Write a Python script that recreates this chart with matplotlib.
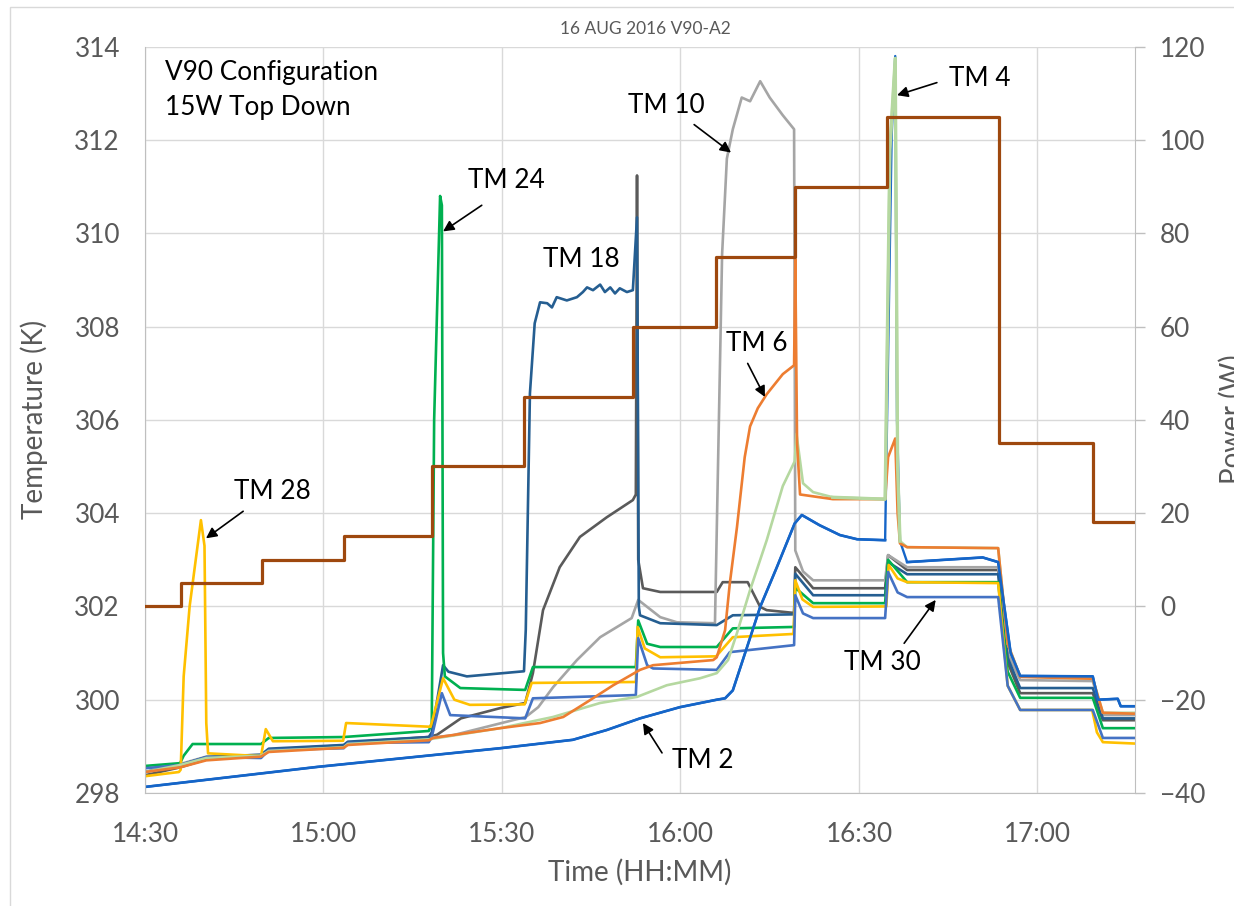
import matplotlib
matplotlib.use("Agg")
import matplotlib.pyplot as plt
from matplotlib.patches import Rectangle

plt.rcParams['font.family'] = ['Lato', 'DejaVu Sans']

# ---------------- data (time in minutes after 14:30) ----------------
x_ticks = [0, 30, 60, 90, 120, 150]
x_labels = ["14:30", "15:00", "15:30", "16:00", "16:30", "17:00"]
y_ticks = [298, 300, 302, 304, 306, 308, 310, 312, 314]
p_ticks = [-40, -20, 0, 20, 40, 60, 80, 100, 120]

power_t = [0, 6.0, 19.7, 33.4, 48.2, 63.7, 82.0, 96.0, 109.2, 124.7, 143.5, 159.3, 166.4]
power_W = [0, 5, 10, 15, 30, 45, 60, 75, 90, 105, 35, 18, 18]

tm2_t = [0, 29, 59.7, 71.9, 77.6, 83.2, 89.9, 96.1, 97.5, 98.8, 101.2, 103.4, 106.2, 109.2, 110.4, 113.4,
         116.8, 119.7, 124.4, 125.5, 126.1, 126.4, 126.9, 128.1, 140.8, 143.4, 145.5, 147.1, 159.3, 160.2,
         163.5, 164.0, 166.4]
tm2_T = [298.13, 298.56, 298.96, 299.14, 299.35, 299.6, 299.84, 300.0, 300.03, 300.2, 301.13, 301.99, 302.84,
         303.78, 303.96, 303.74, 303.53, 303.44, 303.42, 312.1, 313.8, 306.0, 303.4, 302.95, 303.05, 302.95,
         301.0, 300.51, 300.5, 300.0, 300.02, 299.86, 299.86]

tm4_t = [0, 5.9, 10.3, 19.5, 20.8, 33.4, 34.1, 47.7, 59.7, 68.6, 76.5, 82.7, 87.7, 93.3, 96.1, 98.0, 99.5,
         101.7, 104.5, 107.2, 109.2, 109.5, 110.6, 112.3, 115.6, 124.4, 125.2, 126.1, 126.5, 126.9, 128.1,
         143.4, 145.0, 147.1, 159.3, 161.0, 166.4]
tm4_T = [298.45, 298.6, 298.75, 298.8, 298.9, 298.98, 299.05, 299.15, 299.39, 299.63, 299.93, 300.06, 300.31,
         300.46, 300.57, 300.85, 301.43, 302.35, 303.42, 304.58, 305.11, 305.7, 304.64, 304.45, 304.34, 304.3,
         311.8, 313.75, 305.0, 303.4, 303.27, 303.25, 301.2, 300.5, 300.45, 299.72, 299.72]

tm6_t = [0, 5.9, 10.3, 19.5, 20.8, 33.4, 34.1, 47.7, 48.4, 59.7, 66.4, 70.3, 74.3, 78.7, 83.2, 85.4, 95.5,
         96.1, 97.5, 98.3, 99.5, 100.0, 100.8, 101.7, 103.0, 104.5, 107.2, 109.1, 109.3, 109.6, 110.1, 115.6,
         124.4, 124.9, 126.1, 126.5, 126.9, 128.1, 143.4, 145.0, 147.1, 159.3, 161.0, 166.4]
tm6_T = [298.45, 298.55, 298.7, 298.78, 298.88, 298.97, 299.03, 299.13, 299.18, 299.39, 299.5, 299.63, 299.95,
         300.31, 300.64, 300.74, 300.85, 300.91, 301.49, 302.5, 303.7, 304.28, 305.2, 305.86, 306.25, 306.55,
         306.98, 307.17, 309.45, 305.5, 304.4, 304.3, 304.3, 305.2, 305.6, 304.0, 303.35, 303.27, 303.25,
         301.2, 300.49, 300.45, 299.72, 299.7]

tm10_t = [0, 5.9, 10.3, 19.5, 20.8, 33.4, 34.1, 47.7, 51.8, 64.0, 66.1, 68.6, 72.6, 76.5, 81.8, 82.9, 86.6,
          89.4, 95.8, 97.0, 97.8, 98.8, 100.3, 101.7, 103.4, 105.0, 107.2, 109.1, 109.3, 110.6, 112.3, 124.4,
          124.9, 128.1, 143.4, 145.0, 147.1, 159.3, 161.0, 166.4]
tm10_T = [298.45, 298.62, 298.78, 298.82, 298.92, 299.0, 299.08, 299.18, 299.24, 299.63, 299.84, 300.27,
          300.85, 301.34, 301.75, 302.14, 301.77, 301.66, 301.64, 309.55, 311.6, 312.23, 312.91, 312.83, 313.26,
          312.91, 312.53, 312.23, 303.2, 302.75, 302.56, 302.56, 303.1, 302.84, 302.84, 301.0, 300.42, 300.4,
          299.67, 299.67]

tm18_t = [0, 5.9, 10.3, 19.5, 20.8, 33.4, 34.1, 47.7, 48.2, 50.1, 51.0, 54.1, 63.7, 64.0, 64.7, 65.5, 66.4,
          67.6, 68.4, 69.2, 70.9, 72.6, 73.6, 74.3, 75.3, 76.5, 77.3, 78.2, 79.0, 79.8, 81.0, 82.0, 82.7,
          83.0, 83.2, 86.6, 96.1, 98.8, 109.1, 109.3, 112.3, 124.4, 124.9, 128.1, 143.4, 145.0, 147.1, 159.3,
          161.0, 166.4]
tm18_T = [298.45, 298.6, 298.77, 298.82, 298.95, 299.03, 299.1, 299.2, 299.3, 300.74, 300.6, 300.5, 300.61,
          301.5, 306.57, 308.07, 308.52, 308.5, 308.41, 308.63, 308.56, 308.63, 308.74, 308.84, 308.78, 308.9,
          308.74, 308.84, 308.71, 308.82, 308.74, 308.78, 310.34, 302.0, 301.81, 301.64, 301.6, 301.81,
          301.83, 302.7, 302.24, 302.24, 302.95, 302.69, 302.69, 300.9, 300.25, 300.25, 299.6, 299.6]

tmx_t = [0, 5.9, 10.3, 19.5, 20.8, 33.4, 34.1, 47.7, 49.1, 53.1, 59.7, 63.9, 65.2, 66.9, 69.7, 73.1, 77.6,
         82.0, 82.5, 82.7, 82.9, 83.7, 86.6, 96.1, 97.1, 101.3, 103.4, 104.5, 109.1, 109.3, 112.3, 124.4,
         124.9, 128.1, 143.4, 145.0, 147.1, 159.3, 161.0, 166.4]
tmx_T = [298.38, 298.55, 298.72, 298.8, 298.93, 299.02, 299.08, 299.2, 299.25, 299.6, 299.82, 299.93, 300.57,
         301.92, 302.84, 303.49, 303.91, 304.28, 304.4, 311.24, 303.0, 302.39, 302.31, 302.31, 302.52, 302.52,
         301.99, 301.92, 301.86, 302.84, 302.39, 302.39, 303.1, 302.78, 302.78, 300.8, 300.14, 300.14, 299.56,
         299.56]

tm24_t = [0, 5.9, 6.5, 8.0, 19.5, 20.8, 33.4, 47.7, 48.2, 48.6, 49.6, 49.9, 50.1, 50.4, 53.0, 63.9, 65.2,
          82.5, 82.9, 84.4, 86.6, 96.1, 98.8, 109.1, 109.3, 112.3, 124.4, 124.9, 128.1, 143.4, 145.0, 147.1,
          159.3, 161.0, 166.4]
tm24_T = [298.58, 298.64, 298.8, 299.05, 299.05, 299.18, 299.2, 299.33, 299.5, 306.0, 310.8, 310.6, 301.0,
          300.5, 300.25, 300.21, 300.7, 300.7, 301.7, 301.2, 301.13, 301.13, 301.53, 301.56, 302.4, 302.07,
          302.07, 303.0, 302.52, 302.52, 300.6, 300.04, 300.04, 299.39, 299.39]

tm28_t = [0, 5.7, 6.0, 6.5, 7.5, 9.4, 10.0, 10.3, 10.6, 19.5, 20.3, 21.5, 33.3, 33.8, 48.0, 48.4, 50.1, 52.0,
          54.6, 63.8, 65.0, 82.5, 82.8, 84.0, 86.6, 96.0, 98.8, 109.0, 109.3, 110.5, 112.3, 124.6, 125.0,
          126.5, 128.1, 143.4, 145.0, 147.1, 159.2, 160.0, 161.0, 166.4]
tm28_T = [298.36, 298.45, 298.5, 300.5, 302.0, 303.85, 303.3, 299.5, 298.85, 298.79, 299.37, 299.11, 299.12,
          299.5, 299.42, 299.6, 300.46, 300.0, 299.89, 299.9, 300.36, 300.38, 301.56, 301.1, 300.91, 300.93,
          301.34, 301.41, 302.56, 302.15, 301.99, 302.0, 302.89, 302.6, 302.52, 302.5, 300.3, 299.78, 299.78,
          299.3, 299.09, 299.06]

tm30_t = [0, 5.9, 10.3, 19.5, 20.8, 33.4, 34.1, 47.7, 48.2, 49.9, 51.3, 63.9, 65.2, 82.5, 82.9, 84.4, 85.4,
          96.1, 98.3, 109.1, 109.3, 110.6, 112.3, 124.4, 124.9, 126.5, 128.1, 143.4, 145.0, 147.1, 159.3,
          161.0, 166.4]
tm30_T = [298.53, 298.6, 298.77, 298.75, 298.92, 298.96, 299.07, 299.09, 299.2, 300.14, 299.67, 299.6, 300.03,
          300.1, 301.32, 300.74, 300.67, 300.64, 301.02, 301.17, 302.24, 301.85, 301.75, 301.75, 302.74, 302.3,
          302.2, 302.2, 300.3, 299.78, 299.78, 299.18, 299.18]

# ---------------- figure ----------------
W, H = 1234, 906
fig = plt.figure(figsize=(W / 100, H / 100), dpi=100)
fig.patch.set_facecolor('white')
fig.patches.append(Rectangle((10 / W, -0.01), 1.1, 1 - 7 / H + 0.01, transform=fig.transFigure,
                             fill=False, edgecolor='#D9D9D9', linewidth=1.0))

ax = fig.add_axes([145 / W, 1 - 793 / H, (1135 - 145) / W, (793 - 46.7) / H])
ax2 = ax.twinx()

grid_c = '#D9D9D9'
axis_c = '#BFBFBF'
txt_c = '#595959'
lw = 1.9
fs = 18.8
c_tm2 = '#1565C8'
c_tm4 = '#B5D8A0'

series = [
    (tm2_t, tm2_T, c_tm2, 1.7),
    (tmx_t, tmx_T, '#5A5A5A', lw),
    (tm10_t, tm10_T, '#A5A5A5', lw),
    (tm18_t, tm18_T, '#255E91', lw),
    (tm24_t, tm24_T, '#00B050', lw),
    (tm28_t, tm28_T, '#FFC000', lw),
    (tm30_t, tm30_T, '#4472C4', lw),
    (tm4_t, tm4_T, c_tm4, lw),
    (tm6_t, tm6_T, '#ED7D31', lw),
]
for t, T, c, w in series:
    ax.plot(t, T, color=c, lw=w, solid_joinstyle='round')
# TM 2 drawn again on top, except its spike region where TM 4 lies above it
ax.plot(tm2_t[:19], tm2_T[:19], color=c_tm2, lw=lw, solid_joinstyle='round')
ax.plot(tm2_t[23:], tm2_T[23:], color=c_tm2, lw=lw, solid_joinstyle='round')
# TM 4 spike on top of everything
ax.plot(tm4_t[24:30], tm4_T[24:30], color=c_tm4, lw=2.4, solid_joinstyle='round')

ax2.plot(power_t, power_W, color='#9E480E', lw=2.3, drawstyle='steps-post')

ax.set_xlim(0, 166.4)
ax.set_ylim(298, 314)
ax2.set_ylim(-40, 120)
ax.set_xticks(x_ticks)
ax.set_xticklabels(x_labels)
ax.set_yticks(y_ticks)
ax2.set_yticks(p_ticks)

ax.grid(True, color=grid_c, lw=1.0)
ax.set_axisbelow(True)
for a in (ax, ax2):
    for s in a.spines.values():
        s.set_visible(False)
ax.spines['left'].set_visible(True)
ax.spines['left'].set_color(axis_c)
ax.spines['bottom'].set_visible(True)
ax.spines['bottom'].set_color(axis_c)
ax2.spines['right'].set_visible(True)
ax2.spines['right'].set_color(axis_c)

ax.tick_params(axis='x', length=0, pad=21, labelsize=fs, labelcolor=txt_c)
ax.tick_params(axis='y', length=0, pad=18, labelsize=fs, labelcolor=txt_c)
ax2.tick_params(axis='y', length=7, width=1, color=axis_c, pad=11, labelsize=fs, labelcolor=txt_c)

fig.text(34 / W, 1 - 419 / H, 'Temperature (K)', rotation=90, ha='center', va='center',
         fontsize=20, color=txt_c)
fig.text(1232 / W, 1 - 419 / H, 'Power (W)', rotation=90, ha='center', va='center',
         fontsize=20, color=txt_c)
fig.text(640 / W, 1 - 872 / H, 'Time (HH:MM)', ha='center', va='center', fontsize=20, color=txt_c)
fig.text(645 / W, 1 - 29 / H, '16 AUG 2016 V90-A2', ha='center', va='center', fontsize=12.5, color=txt_c)

ax.text(3.36, 313.45, 'V90 Configuration', ha='left', va='center', fontsize=fs, color='black')
ax.text(3.36, 312.70, '15W Top Down', ha='left', va='center', fontsize=fs, color='black')

labels = [
    ('TM 28', 21.4, 304.47, (16.5, 304.04), (10.25, 303.46)),
    ('TM 24', 60.8, 311.13, (56.6, 310.6), (50.1, 310.04)),
    ('TM 18', 73.3, 309.44, None, None),
    ('TM 10', 87.6, 312.74, (92.3, 312.33), (98.5, 311.73)),
    ('TM 4', 140.3, 313.32, (133.1, 313.23), (126.4, 312.96)),
    ('TM 6', 102.9, 307.64, (101.3, 307.21), (104.2, 306.49)),
    ('TM 2', 93.8, 298.69, (86.9, 298.86), (83.7, 299.5)),
    ('TM 30', 124.0, 300.79, (127.6, 301.21), (132.9, 302.14)),
]
for txt, tx, ty, tail, head in labels:
    ax.text(tx, ty, txt, ha='center', va='center', fontsize=fs, color='black', zorder=10)
    if tail is not None:
        ax.annotate('', xy=head, xytext=tail,
                    arrowprops=dict(arrowstyle='-|>', color='black', lw=1.2, mutation_scale=16,
                                    shrinkA=0, shrinkB=0), zorder=10)

fig.savefig('out.png', dpi=100)
